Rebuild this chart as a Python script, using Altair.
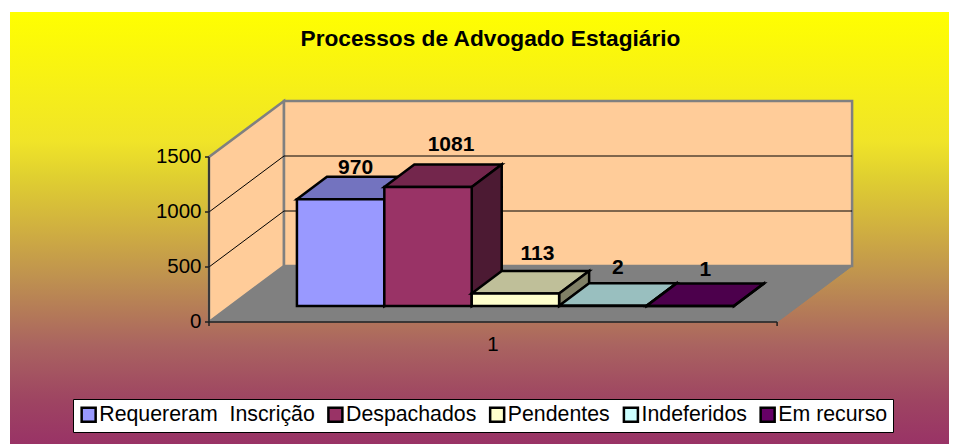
import altair as alt
import pandas as pd

# ---- data ----
categories = ["Requereram \u00a0Inscrição", "Despachados", "Pendentes", "Indeferidos", "Em recurso"]
values = [970, 1081, 113, 2, 1]
colors = ["#9999FF", "#993366", "#FFFFCC", "#CCFFFF", "#660066"]
y_ticks = [0, 500, 1000, 1500]
group_label = ["1"]
title_text = "Processos de Advogado Estagiário"

# ---- geometry (x unit = one bar width, y unit = chart value) ----
W, H = 939, 432
PX_X = 87.4            # pixels per x unit
PX_Y = 0.11            # pixels per value unit
ORIGIN_X, ORIGIN_Y = 199, 310   # floor's front-left corner inside the view
FLOOR_W = 6.5
WALL_DX, WALL_DY = 75 / PX_X, 56 / PX_Y
BAR_DX, BAR_DY = 30 / PX_X, 22.5 / PX_Y
BAR_X0, BAR_BASE = 1.006, 16 / PX_Y
TOP_VALUE = 1500
TICK_X, TICK_Y = 4 / PX_X, 4 / PX_Y
FONT = "Liberation Sans"
LABEL_NUDGE_PX = [8.5, 20, 17, 15, 13]
LABEL_SHIFT_PX = [0, 8, 7, 0, 0]
GRADIENT = [(0, "#FFFF00"), (0.3, "#F0E428"), (0.38, "#E0D030"), (0.5, "#D0B040"),
            (0.62, "#BE9050"), (0.77, "#AA6460"), (0.9, "#9E4462"), (1, "#993366")]

xs = alt.Scale(domain=[-ORIGIN_X / PX_X, (W - ORIGIN_X) / PX_X], nice=False, zero=False)
ys = alt.Scale(domain=[(ORIGIN_Y - H) / PX_Y, ORIGIN_Y / PX_Y], nice=False, zero=False)


def shade(hex_color, k):
    r, g, b = (int(hex_color[i:i + 2], 16) for i in (1, 3, 5))
    return "#%02X%02X%02X" % (round(r * k), round(g * k), round(b * k))


def vertical(rows, **mark):
    """parallelogram with vertical sides: rows of (x, y, y2)"""
    df = pd.DataFrame(rows, columns=["x", "y", "y2"])
    return alt.Chart(df).mark_area(**mark).encode(
        x=alt.X("x:Q", scale=xs, axis=None),
        y=alt.Y("y:Q", scale=ys, axis=None),
        y2="y2:Q",
    )


def horizontal(rows, **mark):
    """parallelogram with horizontal sides: rows of (y, x, x2)"""
    df = pd.DataFrame(rows, columns=["y", "x", "x2"])
    return alt.Chart(df).mark_area(orient="horizontal", **mark).encode(
        y=alt.Y("y:Q", scale=ys, axis=None),
        x=alt.X("x:Q", scale=xs, axis=None),
        x2="x2:Q",
    )


def polyline(rows, **mark):
    df = pd.DataFrame(rows, columns=["x", "y", "k"])
    return alt.Chart(df).mark_line(**mark).encode(
        x=alt.X("x:Q", scale=xs, axis=None),
        y=alt.Y("y:Q", scale=ys, axis=None),
        detail="k:N",
    )


def text_layer(df, **mark):
    return alt.Chart(df).mark_text(font=FONT, color="#000000", baseline="middle", **mark).encode(
        x=alt.X("x:Q", scale=xs, axis=None),
        y=alt.Y("y:Q", scale=ys, axis=None),
        text="t:N",
    )


layers = []

# gradient backdrop
layers.append(
    alt.Chart(pd.DataFrame({"a": [0]})).mark_rect(
        color=alt.Gradient(
            gradient="linear", x1=0, x2=0, y1=0, y2=1,
            stops=[alt.GradientStop(color=c, offset=o) for o, c in GRADIENT],
        )
    ).encode(x=alt.value(0), x2=alt.value(W), y=alt.value(0), y2=alt.value(H))
)

# walls
WALL_FILL, EDGE = "#FFCC99", "#808080"
layers.append(vertical(
    [(0, 0, TOP_VALUE), (WALL_DX, WALL_DY, TOP_VALUE + WALL_DY)],
    fill=WALL_FILL, stroke=EDGE, strokeWidth=2.5))
layers.append(vertical(
    [(WALL_DX, WALL_DY, TOP_VALUE + WALL_DY), (WALL_DX + FLOOR_W, WALL_DY, TOP_VALUE + WALL_DY)],
    fill=WALL_FILL, stroke=EDGE, strokeWidth=2.5))

# gridlines
grid_rows = []
for v in y_ticks[1:-1]:
    grid_rows += [(0, v, v), (WALL_DX, v + WALL_DY, v), (WALL_DX + FLOOR_W, v + WALL_DY, v)]
layers.append(polyline(grid_rows, color="#000000", strokeWidth=1))

# floor
layers.append(horizontal(
    [(0, 0, FLOOR_W), (WALL_DY, WALL_DX, WALL_DX + FLOOR_W)],
    fill="#808080", stroke="#808080", strokeWidth=1))

# axis lines and ticks
axis_rows = [(0, TOP_VALUE, "a"), (0, 0, "a"), (FLOOR_W, 0, "a")]
for v in y_ticks:
    axis_rows += [(-TICK_X, v, f"y{v}"), (0, v, f"y{v}")]
axis_rows += [(0, 0, "x0"), (0, -TICK_Y, "x0"), (FLOOR_W, 0, "x1"), (FLOOR_W, -TICK_Y, "x1")]
layers.append(polyline(axis_rows, color="#202020", strokeWidth=1.5))

# value-axis labels
layers.append(text_layer(
    pd.DataFrame({"x": [-7.5 / PX_X] * len(y_ticks), "y": y_ticks, "t": [str(v) for v in y_ticks]}),
    fontSize=20.5, align="right"))

# bars
legend = alt.Legend(
    orient="none", legendX=63, legendY=387, direction="horizontal", columns=5,
    title=None, fillColor="#FFFFFF", strokeColor="#000000", padding=5,
    symbolType="square", symbolSize=196, symbolStrokeColor="#000000", symbolStrokeWidth=2.5,
    labelFont=FONT, labelFontSize=21.3, labelColor="#000000", labelOffset=0,
    labelLimit=400, columnPadding=7.75, symbolOpacity=1,
)
color = alt.Color("cat:N", scale=alt.Scale(domain=categories, range=colors), legend=legend, sort=None)

for i, (cat, val, col) in enumerate(zip(categories, values, colors)):
    L, R = BAR_X0 + i, BAR_X0 + i + 1
    t = BAR_BASE + val
    layers.append(horizontal(
        [(t, L, R), (t + BAR_DY, L + BAR_DX, R + BAR_DX)],
        fill=shade(col, 0.75), stroke="#000000", strokeWidth=2.5))
    layers.append(vertical(
        [(R, BAR_BASE, t), (R + BAR_DX, BAR_BASE + BAR_DY, t + BAR_DY)],
        fill=shade(col, 0.5), stroke="#000000", strokeWidth=2.5))
    front = pd.DataFrame({"cat": [cat], "x": [L], "x2": [R], "y": [BAR_BASE], "y2": [t]})
    layers.append(
        alt.Chart(front).mark_rect(stroke="#000000", strokeWidth=2.5).encode(
            x=alt.X("x:Q", scale=xs, axis=None), x2="x2:Q",
            y=alt.Y("y:Q", scale=ys, axis=None), y2="y2:Q",
            color=color,
        )
    )

# value labels
label_df = pd.DataFrame({
    "x": [BAR_X0 + i + 0.5 + BAR_DX / 2 + s / PX_X for i, s in enumerate(LABEL_SHIFT_PX)],
    "y": [BAR_BASE + v + BAR_DY + n / PX_Y for v, n in zip(values, LABEL_NUDGE_PX)],
    "t": [str(v) for v in values],
})
layers.append(text_layer(label_df, fontSize=21, fontWeight="bold", align="center"))

# category label under the floor
layers.append(text_layer(
    pd.DataFrame({"x": [FLOOR_W / 2], "y": [-23 / PX_Y], "t": group_label}),
    fontSize=20.5, align="center"))

chart = alt.layer(*layers).properties(
    width=W, height=H,
    padding={"left": 2, "top": 4, "right": 0, "bottom": 0},
    autosize=alt.AutoSizeParams(type="none"),
    title=alt.TitleParams(
        text=title_text, font=FONT, fontSize=22.7, fontWeight="bold", color="#000000",
        anchor="middle", frame="group", dx=11, dy=49.5, baseline="middle", offset=0,
    ),
).configure_view(stroke=None)

chart.save("out.html", embed_options={"renderer": "svg", "actions": False})
